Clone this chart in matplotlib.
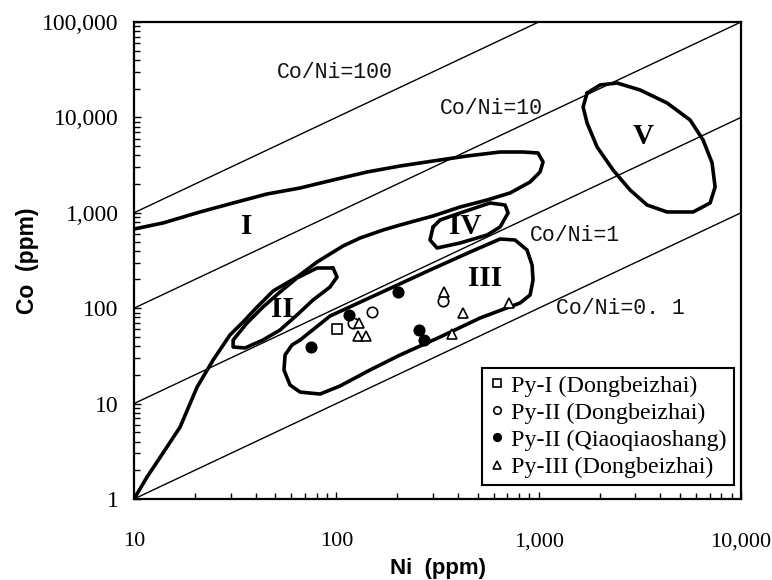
import numpy as np
import matplotlib
matplotlib.use("Agg")
import matplotlib.pyplot as plt

# ---- data ----
x_ticks = [10, 100, 1000, 10000]
x_tick_labels = ["10", "100", "1,000", "10,000"]
y_ticks = [1, 10, 100, 1000, 10000, 100000]
y_tick_labels = ["1", "10", "100", "1,000", "10,000", "100,000"]

ratios = [100, 10, 1, 0.1]
ratio_labels = ["Co/Ni=100", "Co/Ni=10", "Co/Ni=1", "Co/Ni=0. 1"]
ratio_label_ni = [98, 582, 1510, 2520]
ratio_label_co = [29900, 12500, 585, 100]

# field outlines (Ni, Co)
field_I_ni = [10, 13.9, 21.2, 30.9, 45.4, 66.2, 96.3, 141.8, 206.5, 300.6, 442.8, 644.7,
              837.3, 993, 1051, 1016, 907, 722, 556, 409, 300.6, 206.5, 170.2, 131.0,
              107.9, 80.3, 63.9, 48.7, 40.6, 34.6, 29.8, 24.6, 20.5, 16.9, 13.9, 11.6, 10]
field_I_co = [676, 782, 1020, 1267, 1574, 1820, 2207, 2677, 3094, 3491, 3939, 4338,
              4338, 4235, 3408, 2677, 2103, 1613, 1362, 1150, 926, 745, 660, 544,
              449, 305, 212, 151.5, 102.9, 71.7, 52.4, 28.6, 14.9, 5.68, 3.03, 1.70, 1]

field_II_ni = [96.3, 100.8, 93.1, 76.7, 63.9, 52.7, 43.4, 35.4, 30.9, 30.9, 36.2, 43.4,
               52.7, 63.9, 80.3, 96.3]
field_II_co = [263.9, 212.3, 166.8, 121.9, 84.9, 59.1, 46.4, 38.3, 39.2, 46.4, 70.0, 102.9,
               147.8, 207.3, 263.9, 263.9]

field_III_ni = [66.2, 93.1, 164.4, 290.5, 458, 644.7, 764, 876, 927.7, 938, 907, 809,
                513, 325.6, 206.5, 146.7, 104.3, 83.1, 66.2, 59.0, 55.1, 55.8, 60.4, 66.2]
field_III_co = [46.4, 82.8, 144.3, 251.4, 388, 531, 519, 407.5, 283.8, 197.5, 137.5, 113.4,
                78.9, 49.9, 32.3, 22.5, 15.3, 12.6, 13.2, 15.7, 22.5, 32.3, 41.2, 46.4]

field_IV_ni = [300.6, 325.6, 408.8, 575.2, 682.3, 706, 644.7, 555.9, 408.8, 314.7, 290.5, 300.6]
field_IV_co = [710, 840.6, 995, 1267, 1207, 995, 710, 585, 482.5, 427.6, 518.7, 710]

field_V_ni = [1735, 2012, 2441, 3171, 4312, 5603, 6496, 7197, 7448, 7036, 5797, 4312,
              3434, 2830, 2332, 1944, 1735, 1658, 1735]
field_V_co = [18020, 21860, 22940, 19380, 14160, 9391, 5797, 3327, 1864, 1267, 1020, 1020,
              1207, 1734, 2810, 4894, 8735, 12850, 18020]

field_names = ["I", "II", "III", "IV", "V"]
field_label_ni = [36.2, 53.9, 543, 432, 3280]
field_label_co = [710, 95.8, 207, 710, 6240]

# samples
pyI_dbz_ni = [100.4]
pyI_dbz_co = [60.5]
pyII_dbz_ni = [150.7, 120.5, 336]
pyII_dbz_co = [91.9, 70.5, 120]
pyII_qqs_ni = [74.6, 115.8, 201, 257, 271]
pyII_qqs_co = [38.9, 84.9, 149, 59, 46.4]
pyIII_dbz_ni = [130, 127.5, 139.6, 340, 421.6, 374, 714]
pyIII_dbz_co = [69.5, 51.1, 51.1, 146.8, 88.4, 53.7, 114]

# ---- figure ----
serif = "Liberation Serif"
plt.rcParams["font.family"] = serif

fig = plt.figure(figsize=(7.72, 5.80), dpi=100)
ax = fig.add_axes([134 / 772, 1 - 499 / 580, 607 / 772, 477 / 580])
ax.set_xscale("log")
ax.set_yscale("log")
ax.set_xlim(10, 10000)
ax.set_ylim(1, 100000)

# ratio reference lines
ni_line = np.array([10, 10000], dtype=float)
for r in ratios:
    ax.plot(ni_line, r * ni_line, color="black", lw=1.0, zorder=1)
for txt, xn, yc in zip(ratio_labels, ratio_label_ni, ratio_label_co):
    ax.text(xn, yc, txt, family="Liberation Mono", fontsize=15.5, ha="center", va="center",
            color="#111111")

# field outlines
for fx, fy in [(field_I_ni, field_I_co), (field_II_ni, field_II_co),
               (field_III_ni, field_III_co), (field_IV_ni, field_IV_co),
               (field_V_ni, field_V_co)]:
    ax.plot(fx, fy, color="black", lw=2.6, solid_joinstyle="round",
            solid_capstyle="round", zorder=2)
for name, xn, yc in zip(field_names, field_label_ni, field_label_co):
    ax.text(xn, yc, name, fontsize=21, fontweight="bold", ha="center", va="center")

# samples
mk = dict(linestyle="none", color="black", markersize=7.5, markeredgewidth=1.2, zorder=3)
ax.plot(pyI_dbz_ni, pyI_dbz_co, marker="s", markerfacecolor="white",
        label="Py-I (Dongbeizhai)", **mk)
ax.plot(pyII_dbz_ni, pyII_dbz_co, marker="o", markerfacecolor="white",
        label="Py-II (Dongbeizhai)", **mk)
ax.plot(pyII_qqs_ni, pyII_qqs_co, marker="o", markerfacecolor="black",
        label="Py-II (Qiaoqiaoshang)", **mk)
ax.plot(pyIII_dbz_ni, pyIII_dbz_co, marker="^", markerfacecolor="white",
        label="Py-III (Dongbeizhai)", **mk)

leg = ax.legend(loc="lower right", bbox_to_anchor=(0.988, 0.029), fontsize=17.3,
                frameon=True, fancybox=False, edgecolor="black", framealpha=1,
                handlelength=0.6, handletextpad=0.3, borderpad=0.3,
                labelspacing=0.22, markerscale=0.72, borderaxespad=0)
leg.get_frame().set_linewidth(1.5)

# axes styling
for side in ["top", "right", "left", "bottom"]:
    ax.spines[side].set_linewidth(1.6)
ax.set_xticks(x_ticks)
ax.set_xticklabels(x_tick_labels)
ax.set_yticks(y_ticks)
ax.set_yticklabels(y_tick_labels)
ax.tick_params(which="both", direction="in", top=False, right=False, width=1.0)
ax.tick_params(which="major", length=5)
ax.tick_params(which="minor", length=4.5)
ax.tick_params(axis="x", which="major", pad=24, labelsize=16)
ax.tick_params(axis="y", which="major", pad=11, labelsize=17)

ax.set_xlabel("Ni  (ppm)", family="Liberation Sans", fontsize=16, fontweight="bold",
              labelpad=5)
ax.set_ylabel("Co  (ppm)", family="Liberation Sans", fontsize=16.5, fontweight="bold",
              labelpad=2)

fig.savefig("out.png", dpi=100)
